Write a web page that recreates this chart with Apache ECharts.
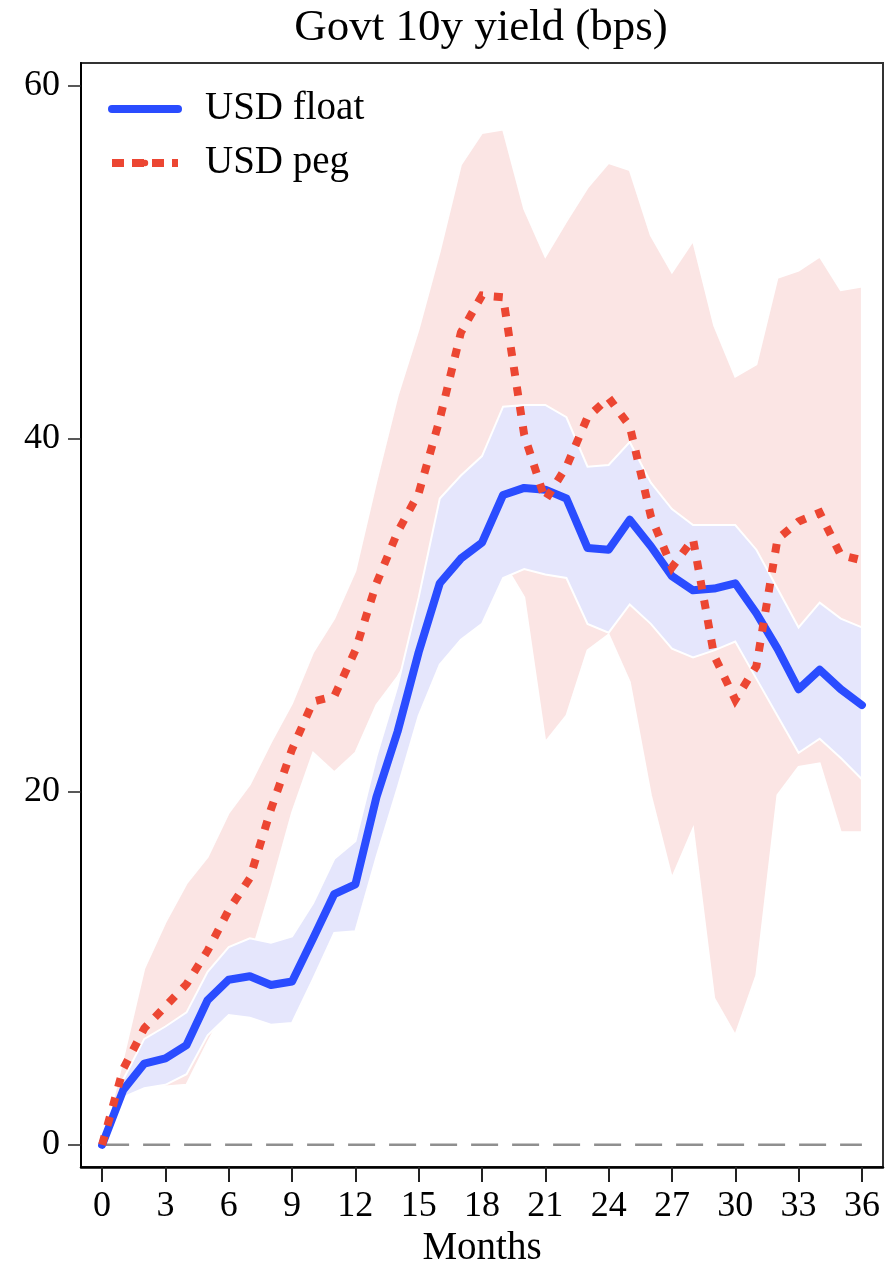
<!DOCTYPE html>
<html>
<head>
<meta charset="utf-8">
<script src="https://cdn.jsdelivr.net/npm/echarts@6/dist/echarts.min.js"></script>
<style>
  html, body { margin: 0; padding: 0; background: #fff; }
  #main { width: 886px; height: 1273px; }
</style>
</head>
<body>
<div id="main"></div>
<script>
// ---- data ----
const months = [0,1,2,3,4,5,6,7,8,9,10,11,12,13,14,15,16,17,18,19,20,21,22,23,24,25,26,27,28,29,30,31,32,33,34,35,36];
const xTicks = [0,3,6,9,12,15,18,21,24,27,30,33,36];
const yTicks = [0,20,40,60];

const usdFloat   = [0,3.1,4.6,4.9,5.65,8.2,9.35,9.55,9.05,9.25,11.7,14.2,14.75,19.7,23.4,27.9,31.8,33.2,34.1,36.8,37.2,37.1,36.6,33.8,33.7,35.4,33.9,32.2,31.4,31.5,31.8,30.1,28.1,25.8,26.9,25.8,24.9];
const usdFloatHi = [0,3.7,6.0,6.7,7.5,9.8,11.2,11.7,11.45,11.8,13.7,16.2,17.2,22.0,26.0,31.0,36.6,37.9,39.0,41.8,41.9,41.9,41.2,38.4,38.5,39.8,37.5,36.0,35.1,35.1,35.1,33.7,31.5,29.3,30.7,29.8,29.3];
const usdFloatLo = [0,2.7,3.2,3.4,4.0,6.2,7.35,7.2,6.8,6.9,9.4,12.0,12.1,16.3,20.2,24.3,27.2,28.6,29.5,32.1,32.6,32.3,32.1,29.5,29.0,30.6,29.5,28.1,27.6,28.0,28.5,26.4,24.3,22.2,23.0,21.9,20.7];

const usdPeg   = [0,4.3,6.6,7.85,9.1,11.0,13.3,15.1,19.0,22.4,25.1,25.4,28.0,31.8,34.7,36.9,41.1,46.0,48.1,48.0,40.2,36.5,38.4,41.2,42.3,40.7,35.6,32.7,34.3,27.7,25.2,27.1,34.3,35.3,35.8,33.4,33.1];
const usdPegHi = [0,4.9,10.0,12.6,14.8,16.3,18.8,20.4,22.8,25.0,27.9,29.8,32.5,37.6,42.4,46.2,50.6,55.5,57.3,57.5,53.0,50.3,52.3,54.2,55.6,55.2,51.5,49.4,51.2,46.4,43.5,44.2,49.1,49.5,50.3,48.4,48.6];
const usdPegLo = [0,2.7,3.2,3.3,3.4,5.8,8.0,10.5,14.5,18.8,22.2,21.1,22.2,24.9,26.5,28.5,30.5,31.5,32.5,33.0,31.0,22.8,24.3,28.0,28.9,26.2,19.8,15.1,17.9,8.3,6.2,9.6,19.8,21.4,21.6,17.7,17.7];

const zeroRef = 0;

// ---- chart ----
const FONT = "'Liberation Serif', 'DejaVu Serif', serif";
const chart = echarts.init(document.getElementById('main'), null, { renderer: 'canvas' });

function pairs(ys) { return months.map((m, i) => [m, ys[i]]); }

function band(name, hi, lo, fill, z) {
  return {
    type: 'custom',
    name: name,
    silent: true,
    z: z,
    clip: true,
    data: [[months[0], lo[0]]],
    renderItem: function (params, api) {
      const pts = [];
      for (let i = 0; i < months.length; i++) pts.push(api.coord([months[i], hi[i]]));
      for (let i = months.length - 1; i >= 0; i--) pts.push(api.coord([months[i], lo[i]]));
      return {
        type: 'polygon',
        shape: { points: pts },
        style: { fill: fill, stroke: '#ffffff', lineWidth: 2 }
      };
    }
  };
}

const option = {
  animation: false,
  backgroundColor: '#ffffff',
  title: {
    text: 'Govt 10y yield (bps)',
    left: 481,
    top: 6,
    padding: 0,
    textAlign: 'center',
    textStyle: { fontFamily: FONT, fontSize: 45, fontWeight: 'normal', color: '#000' }
  },
  legend: {
    data: [
      { name: 'USD float' },
      { name: 'USD peg', lineStyle: { type: [12, 8], width: 8 } }
    ],
    orient: 'vertical',
    left: 108,
    top: 87,
    padding: 0,
    itemWidth: 66,
    itemHeight: 8,
    itemGap: 10,
    lineStyle: { width: 8 },
    textStyle: { fontFamily: FONT, fontSize: 39, color: '#000', lineHeight: 44, padding: [0, 0, 0, 22] }
  },
  grid: { left: 81, right: 3, top: 63, bottom: 104, show: true, borderColor: '#333', borderWidth: 2, backgroundColor: 'transparent' },
  xAxis: {
    type: 'value',
    min: -1,
    max: 37,
    name: 'Months',
    nameLocation: 'middle',
    nameGap: 58,
    nameTextStyle: { fontFamily: FONT, fontSize: 39, color: '#000' },
    axisLine: { show: true, onZero: false, lineStyle: { color: '#000', width: 2.5 } },
    axisTick: { show: true, customValues: xTicks, length: 15, lineStyle: { color: '#222', width: 2 } },
    axisLabel: { customValues: xTicks, fontFamily: FONT, fontSize: 36, color: '#000', margin: 21 },
    splitLine: { show: false }
  },
  yAxis: {
    type: 'value',
    min: -1.26,
    max: 61.26,
    axisLine: { show: true, onZero: false, lineStyle: { color: '#000', width: 2 } },
    axisTick: { show: true, customValues: yTicks, length: 13, lineStyle: { color: '#222', width: 1.5 } },
    axisLabel: { customValues: yTicks, fontFamily: FONT, fontSize: 36, color: '#000', margin: 21 },
    splitLine: { show: false }
  },
  series: [
    {
      type: 'line',
      name: 'zero',
      data: [[months[0], zeroRef], [months[months.length - 1], zeroRef]],
      symbol: 'none',
      silent: true,
      z: 1,
      lineStyle: { color: '#8f8f8f', width: 2.5, type: [27, 14] }
    },
    band('pegBand', usdPegHi, usdPegLo, '#fbe5e4', 2),
    band('floatBand', usdFloatHi, usdFloatLo, '#e5e6fc', 3),
    {
      type: 'line',
      name: 'USD float',
      data: pairs(usdFloat),
      symbol: 'none',
      z: 5,
      lineStyle: { color: '#2a4cff', width: 8, join: 'round', cap: 'round' },
      itemStyle: { color: '#2a4cff' }
    },
    {
      type: 'line',
      name: 'USD peg',
      data: pairs(usdPeg),
      symbol: 'none',
      z: 6,
      lineStyle: { color: '#ec4632', width: 8, type: [9, 11], cap: 'butt', join: 'miter' },
      itemStyle: { color: '#ec4632' }
    }
  ]
};

chart.setOption(option);
</script>
</body>
</html>
